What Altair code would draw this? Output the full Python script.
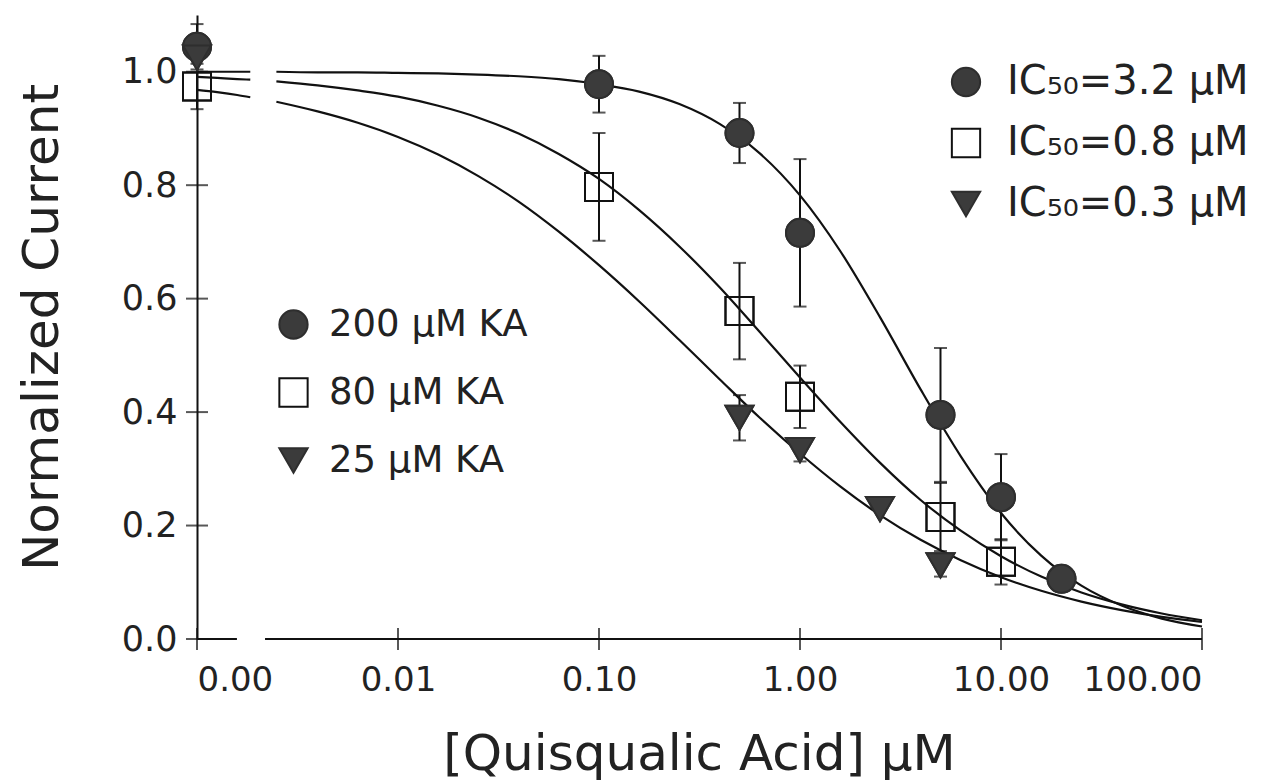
import altair as alt
import pandas as pd

FONT = "DejaVu Sans"
DARK = "#3b3b3b"

SERIES = ["200 μM KA", "80 μM KA", "25 μM KA"]
FITS = ["IC₅₀=3.2 μM", "IC₅₀=0.8 μM", "IC₅₀=0.3 μM"]

# measured points (x = 0.001 stands for the 0.00 control)
x200 = [0.001, 0.1, 0.5, 1.0, 5.0, 10.0, 20.0]
y200 = [1.044, 0.978, 0.892, 0.716, 0.395, 0.25, 0.106]
e200 = [0.04, 0.05, 0.053, 0.13, 0.118, 0.076, 0.0]

x80 = [0.001, 0.1, 0.5, 1.0, 5.0, 10.0]
y80 = [0.974, 0.797, 0.578, 0.427, 0.215, 0.136]
e80 = [0.04, 0.095, 0.085, 0.055, 0.06, 0.04]

x25 = [0.001, 0.5, 1.0, 2.5, 5.0]
y25 = [1.025, 0.39, 0.333, 0.229, 0.13]
e25 = [0.0, 0.04, 0.02, 0.0, 0.02]

# fitted curves (two pieces around the axis break)
fit_x1 = [0.001, 0.001259, 0.001585, 0.001841]
fit_x2 = [0.002483, 0.003981, 0.00631, 0.01, 0.01585, 0.02512, 0.03981, 0.0631, 0.1, 0.1585,
          0.2512, 0.3981, 0.631, 1.0, 1.585, 2.512, 3.981, 6.31, 10.0, 15.85, 25.12, 39.81,
          63.1, 100.0]
fit200_1 = [1.0, 1.0, 1.0, 1.0]
fit200_2 = [1.0, 0.999, 0.999, 0.998, 0.997, 0.995, 0.992, 0.987, 0.978, 0.965, 0.943, 0.908,
            0.856, 0.782, 0.684, 0.566, 0.44, 0.322, 0.222, 0.147, 0.094, 0.059, 0.036, 0.022]
fit80_1 = [0.991, 0.989, 0.987, 0.986]
fit80_2 = [0.983, 0.976, 0.967, 0.956, 0.94, 0.919, 0.891, 0.855, 0.811, 0.756, 0.692, 0.62,
           0.541, 0.461, 0.383, 0.31, 0.245, 0.191, 0.146, 0.11, 0.082, 0.061, 0.045, 0.033]
fit25_1 = [0.968, 0.964, 0.959, 0.955]
fit25_2 = [0.947, 0.93, 0.91, 0.885, 0.854, 0.816, 0.771, 0.718, 0.659, 0.595, 0.527, 0.458,
           0.39, 0.327, 0.269, 0.218, 0.175, 0.139, 0.109, 0.085, 0.066, 0.051, 0.039, 0.03]

x_tick_values = [0.001, 0.01, 0.1, 1.0, 10.0, 100.0]
y_tick_values = [0.0, 0.2, 0.4, 0.6, 0.8, 1.0]
axis_pieces_from = [0.001, 0.00218]
axis_pieces_to = [0.00158, 100.0]

rows = []
for name, fit, xs, ys, es in zip(SERIES, FITS, [x200, x80, x25], [y200, y80, y25], [e200, e80, e25]):
    for xv, yv, ev in zip(xs, ys, es):
        rows.append(dict(x=xv, y=yv, lo=yv - ev, hi=yv + ev, err=ev, conc=name, fit=fit))
pts = pd.DataFrame(rows)

crow = []
for name, c1, c2 in zip(SERIES, [fit200_1, fit80_1, fit25_1], [fit200_2, fit80_2, fit25_2]):
    for xv, yv in zip(fit_x1, c1):
        crow.append(dict(x=xv, y=yv, conc=name, seg=1))
    for xv, yv in zip(fit_x2, c2):
        crow.append(dict(x=xv, y=yv, conc=name, seg=2))
curves = pd.DataFrame(crow)

axis_x = pd.DataFrame(dict(x=axis_pieces_from, x2=axis_pieces_to, y=[0.0, 0.0]))
xticks = pd.DataFrame(dict(x=x_tick_values, y=[0.0] * len(x_tick_values)))
yticks = pd.DataFrame(dict(x=[0.001] * len(y_tick_values), y=y_tick_values))

xscale = alt.Scale(type="log", domain=[0.001, 100])
yscale = alt.Scale(domain=[0, 1.1], nice=False, zero=False)
xaxis = alt.Axis(values=x_tick_values, format=".2f", domain=False, ticks=False,
                 grid=False, labelFontSize=34, labelPadding=24, labelColor="#222",
                 title="[Quisqualic Acid] μM", titleFontSize=50, titleFontWeight="normal",
                 titleColor="#222", titleX=502, titleY=130, titleBaseline="alphabetic")
yaxis = alt.Axis(values=y_tick_values, format=".1f", domain=True, domainColor="#111",
                 domainWidth=2, ticks=False, grid=False, labelFontSize=35, labelPadding=20,
                 labelColor="#222", title="Normalized Current", titleFontSize=50,
                 titleFontWeight="normal", titleColor="#222", titleX=-140, titleY=312,
                 titleAngle=270, titleBaseline="alphabetic")


def X(f="x"):
    return alt.X(f"{f}:Q", scale=xscale, axis=xaxis)


def Y(f="y"):
    return alt.Y(f"{f}:Q", scale=yscale, axis=yaxis)


xline = alt.Chart(axis_x).mark_rule(color="#111", strokeWidth=2).encode(x=X(), x2="x2:Q", y=Y())
xt = alt.Chart(xticks).mark_tick(orient="vertical", size=22, thickness=2, color="#111").encode(x=X(), y=Y())
yt = alt.Chart(yticks).mark_tick(orient="horizontal", size=22, thickness=2, color="#111").encode(x=X(), y=Y())

lines = alt.Chart(curves).mark_line(color="#111", strokeWidth=2.2, interpolate="monotone").encode(
    x=X(), y=Y(), detail=["conc:N", "seg:N"], order="x:Q")

eb = alt.Chart(pts).transform_filter("datum.err > 0")
erule = eb.mark_rule(color="#111", strokeWidth=2).encode(x=X(), y=Y("lo"), y2="hi:Q")
ecap1 = eb.mark_tick(orient="horizontal", size=13, thickness=2, color="#111").encode(x=X(), y=Y("lo"))
ecap2 = eb.mark_tick(orient="horizontal", size=13, thickness=2, color="#111").encode(x=X(), y=Y("hi"))

shapes = ["circle", "square", "triangle-down"]
fills = [DARK, "transparent", DARK]
strokes = ["#2e2e2e", "#111111", "#2e2e2e"]

legA = alt.Legend(title=None, orient="none", legendX=78, legendY=291, direction="vertical",
                  symbolSize=800, labelFontSize=37, labelFont=FONT, labelColor="#222",
                  labelOffset=17, labelLimit=0, rowPadding=30, symbolStrokeWidth=2, padding=0)
legB = alt.Legend(title=None, orient="none", legendX=749, legendY=47, direction="vertical",
                  symbolSize=800, labelFontSize=40, labelFont=FONT, labelColor="#222",
                  labelOffset=21, labelLimit=0, rowPadding=21, symbolStrokeWidth=2, padding=0)

ptsA = alt.Chart(pts).mark_point(filled=True, opacity=1, size=784, strokeWidth=2).encode(
    x=X(), y=Y(),
    shape=alt.Shape("conc:N", scale=alt.Scale(domain=SERIES, range=shapes), legend=legA),
    fill=alt.Fill("conc:N", scale=alt.Scale(domain=SERIES, range=fills), legend=legA),
    stroke=alt.Stroke("conc:N", scale=alt.Scale(domain=SERIES, range=strokes), legend=legA),
)
ptsB = alt.Chart(pts).mark_point(filled=True, opacity=1, size=784, strokeWidth=2).encode(
    x=X(), y=Y(),
    shape=alt.Shape("fit:N", scale=alt.Scale(domain=FITS, range=shapes), legend=legB),
    fill=alt.Fill("fit:N", scale=alt.Scale(domain=FITS, range=fills), legend=legB),
    stroke=alt.Stroke("fit:N", scale=alt.Scale(domain=FITS, range=strokes), legend=legB),
)

chart = alt.layer(xline, xt, yt, lines, erule, ecap1, ecap2, ptsA, ptsB).resolve_scale(
    shape="independent", fill="independent", stroke="independent"
).properties(
    width=1005, height=624, autosize=alt.AutoSizeParams(type="none"),
    padding={"left": 197, "top": 15, "right": 66, "bottom": 144},
    background="white",
).configure(font=FONT, view=alt.ViewConfig(stroke=None, strokeWidth=0))

chart.save("out.html", embed_options={"renderer": "svg", "actions": False})
